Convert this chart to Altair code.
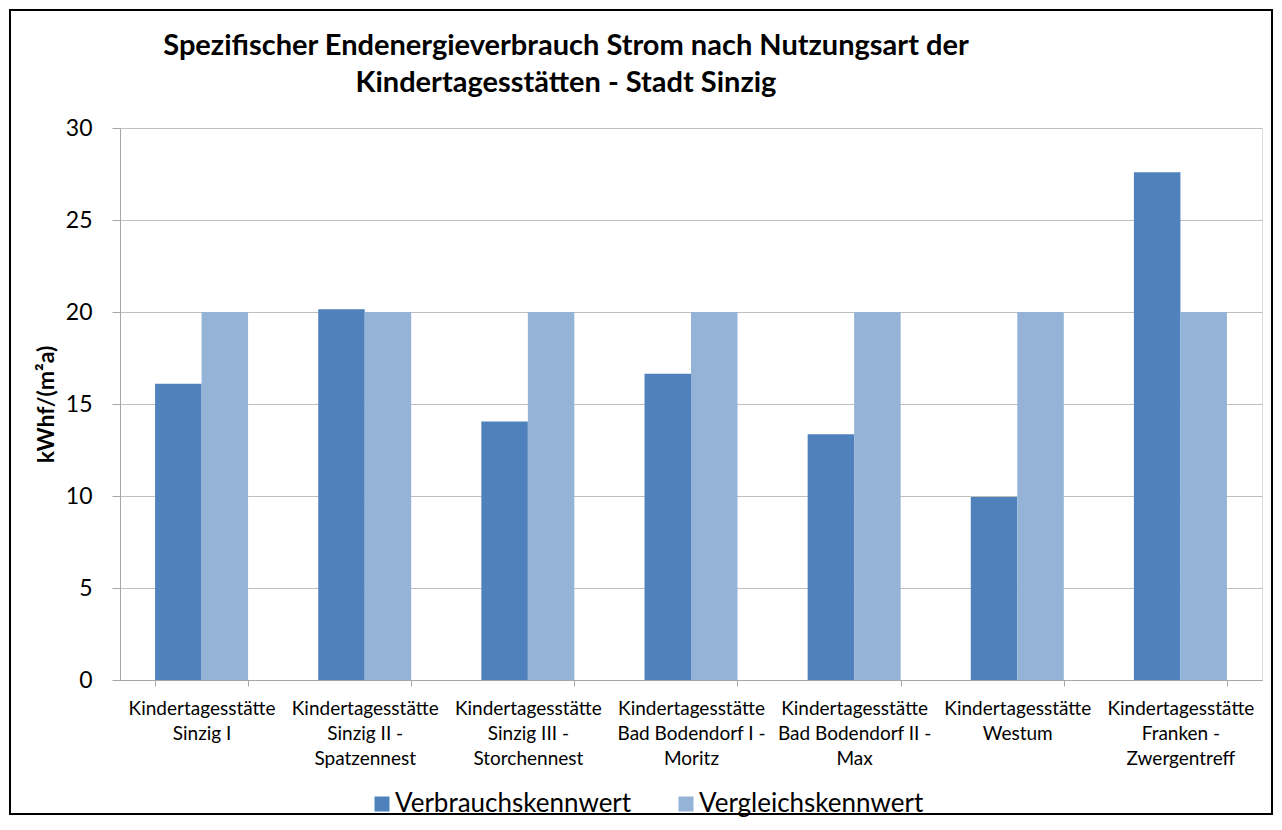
import altair as alt
import pandas as pd

categories = [
    "Kindertagesstätte\nSinzig I",
    "Kindertagesstätte\nSinzig II -\nSpatzennest",
    "Kindertagesstätte\nSinzig III -\nStorchennest",
    "Kindertagesstätte\nBad Bodendorf I -\nMoritz",
    "Kindertagesstätte\nBad Bodendorf II -\nMax",
    "Kindertagesstätte\nWestum",
    "Kindertagesstätte\nFranken -\nZwergentreff",
]
verbrauch = [16.1, 20.15, 14.05, 16.65, 13.35, 9.95, 27.6]
vergleich = [20, 20, 20, 20, 20, 20, 20]
series = ["Verbrauchskennwert", "Vergleichskennwert"]
colors = ["#4F81BD", "#95B3D7"]
title_lines = ["Spezifischer Endenergieverbrauch Strom nach Nutzungsart der",
               "Kindertagesstätten - Stadt Sinzig"]

rows = []
for c, v1, v2 in zip(categories, verbrauch, vergleich):
    rows.append({"cat": c, "series": series[0], "value": v1})
    rows.append({"cat": c, "series": series[1], "value": v2})
df = pd.DataFrame(rows)

W, H = 1142, 552
FONT = "Lato"

bars = alt.Chart(df).mark_bar().encode(
    x=alt.X("cat:N", sort=categories, title=None,
            scale=alt.Scale(paddingInner=0.43, paddingOuter=0.215),
            axis=alt.Axis(labelExpr="split(datum.label, '\\n')", labelAngle=0,
                          labelFontSize=19, labelFont=FONT, labelColor="#000000",
                          labelLineHeight=25, labelBaseline="top", labelPadding=13,
                          tickBand="extent", tickSize=6, tickColor="#A6A6A6",
                          domainColor="#A6A6A6", grid=False, labelLimit=0)),
    xOffset=alt.XOffset("series:N", sort=series, scale=alt.Scale(paddingInner=0, paddingOuter=0)),
    y=alt.Y("value:Q", scale=alt.Scale(domain=[0, 30]),
            title="kWhf/(m²a)",
            axis=alt.Axis(values=[0, 5, 10, 15, 20, 25, 30], labelFontSize=23, labelFont=FONT,
                          labelColor="#000000", labelPadding=20, tickSize=8,
                          tickColor="#A6A6A6", domainColor="#A6A6A6",
                          gridColor="#BFBFBF", titleFont=FONT, titleFontSize=23,
                          titleFontWeight="bold", titleColor="#000000", titlePadding=7)),
    color=alt.Color("series:N", sort=series,
                    scale=alt.Scale(domain=series, range=colors),
                    legend=alt.Legend(title=None, orient="none", direction="horizontal",
                                      legendX=249, legendY=663, symbolType="square",
                                      symbolSize=225, symbolStrokeWidth=0, labelFont=FONT,
                                      labelFontSize=26, labelColor="#000000", labelLimit=0,
                                      columnPadding=41, labelOffset=0)),
)

title1 = alt.Chart(pd.DataFrame({"t": [title_lines[0]]})).mark_text(
    font=FONT, fontSize=29, fontWeight="bold", color="#000000", align="center", baseline="alphabetic"
).encode(text="t:N", x=alt.value(446), y=alt.value(-73))

title2 = alt.Chart(pd.DataFrame({"t": [title_lines[1]]})).mark_text(
    font=FONT, fontSize=29, fontWeight="bold", color="#000000", align="center", baseline="alphabetic"
).encode(text="t:N", x=alt.value(446), y=alt.value(-36))

border = alt.Chart(pd.DataFrame({"a": [0]})).mark_rect(
    filled=False, stroke="#000000", strokeWidth=2
).encode(
    x=alt.value(-110), x2=alt.value(W + 10),
    y=alt.value(-118), y2=alt.value(H + 134),
)

chart = alt.layer(bars, title1, title2, border).properties(
    width=W, height=H,
    autosize=alt.AutoSizeParams(type="none"),
    padding={"left": 112, "top": 120, "right": 12, "bottom": 138},
).configure_view(stroke=None).configure(background="#FFFFFF")

chart.save("out.html", embed_options={"renderer": "svg", "actions": False})
